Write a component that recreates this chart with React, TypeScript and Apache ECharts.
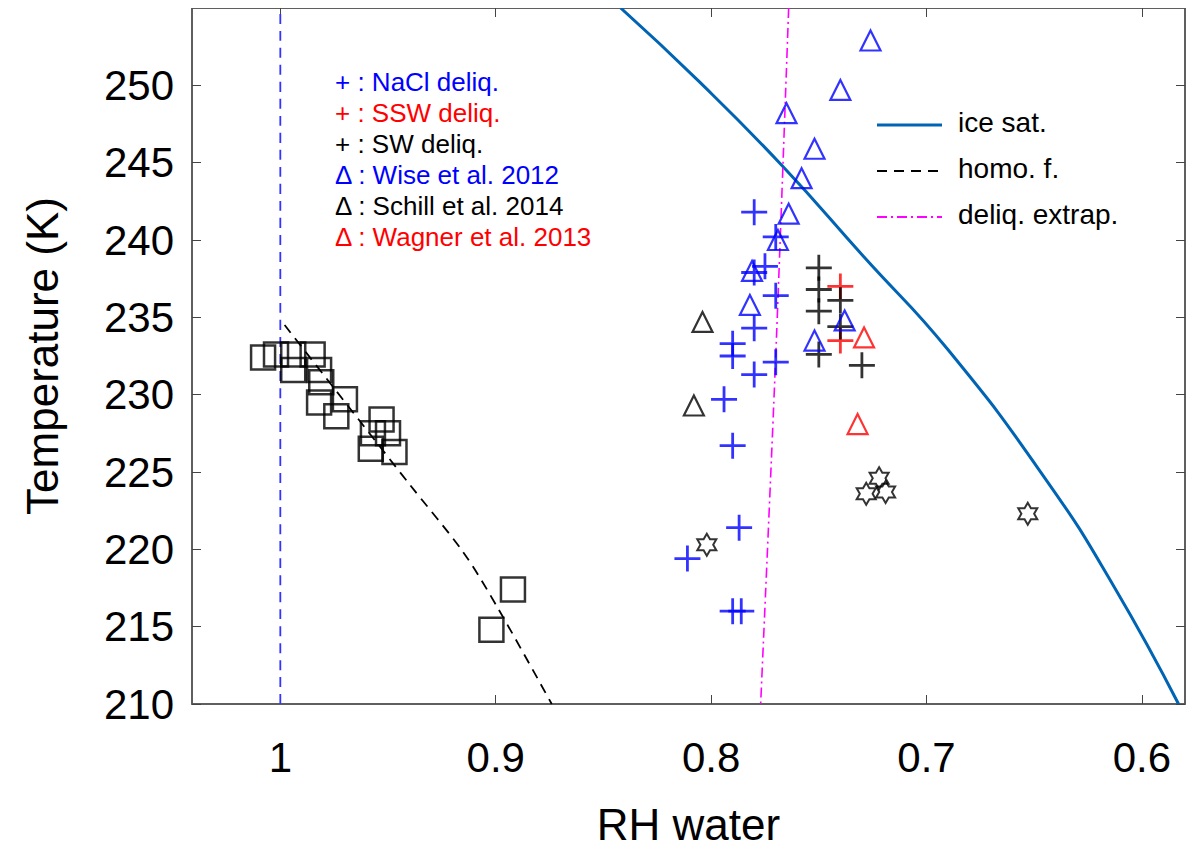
import React, { useEffect, useRef } from "react";
import * as echarts from "echarts";

const naclDeliq = [
  [0.780, 241.8], [0.770, 240.2], [0.775, 238.3], [0.780, 237.9], [0.770, 236.4],
  [0.780, 234.3], [0.790, 233.3], [0.790, 232.5], [0.780, 231.3], [0.770, 232.1],
  [0.794, 229.7], [0.790, 226.7], [0.787, 221.4], [0.811, 219.4], [0.790, 216.0], [0.786, 216.0],
];
const sswDeliq = [[0.740, 237.0], [0.740, 233.5]];
const swDeliq = [
  [0.750, 238.2], [0.750, 236.8], [0.740, 236.1], [0.750, 235.4], [0.740, 234.4],
  [0.750, 232.6], [0.730, 231.9],
];
const wise2012 = [
  [0.726, 252.9], [0.740, 249.7], [0.765, 248.2], [0.752, 245.9], [0.758, 244.0],
  [0.764, 241.7], [0.769, 240.0], [0.781, 238.0], [0.782, 235.8], [0.738, 234.8], [0.752, 233.5],
];
const schill2014 = [[0.804, 234.7], [0.808, 229.3]];
const wagner2013 = [[0.729, 233.7], [0.732, 228.1]];
const squares = [
  [1.008, 232.4], [1.002, 232.6], [0.994, 232.6], [0.985, 232.6], [0.994, 231.6],
  [0.982, 231.6], [0.981, 230.8], [0.982, 229.5], [0.970, 229.7], [0.974, 228.6],
  [0.953, 228.4], [0.957, 227.5], [0.950, 227.5], [0.958, 226.5], [0.947, 226.3],
  [0.892, 217.4], [0.902, 214.8],
];
const stars = [[0.802, 220.3], [0.728, 223.6], [0.722, 224.6], [0.719, 223.7], [0.653, 222.3]];
const iceSat = [
  [0.842, 255], [0.806, 250.3], [0.767, 244.8], [0.729, 238.9], [0.690, 232.9],
  [0.644, 224.4], [0.613, 217.6], [0.583, 210],
];
const homoF = [[0.998, 234.5], [0.940, 224.2], [0.915, 219.8], [0.899, 216.2], [0.874, 210]];
const deliqExtrap = [[0.764, 255], [0.770, 232.5], [0.777, 210]];
const waterLine = [[1, 210], [1, 255]];
const xTicks = [1, 0.9, 0.8, 0.7, 0.6];
const yTicks = [210, 215, 220, 225, 230, 235, 240, 245, 250];

const textLegend = [
  { sym: "+", label: "NaCl deliq.", color: "#0000ff" },
  { sym: "+", label: "SSW deliq.", color: "#ff0000" },
  { sym: "+", label: "SW deliq.", color: "#000000" },
  { sym: "\u0394", label: "Wise et al. 2012", color: "#0000ff" },
  { sym: "\u0394", label: "Schill et al. 2014", color: "#000000" },
  { sym: "\u0394", label: "Wagner et al. 2013", color: "#ff0000" },
];
const lineLegend = [
  { label: "ice sat.", color: "#0064b4", type: "solid" },
  { label: "homo. f.", color: "#000000", type: "dashed" },
  { label: "deliq. extrap.", color: "#ff00ff", type: "dashdot" },
];

const PLUS = "path://M0,-10L0,10M-10,0L10,0";
const STAR = "path://M0,-10L2.9,-5L8.66,-5L5.8,0L8.66,5L2.9,5L0,10L-2.9,5L-8.66,5L-5.8,0L-8.66,-5L-2.9,-5Z";
const FONT = "Liberation Sans, Arial, sans-serif";

function scatter(data: number[][], symbol: string, color: string, size: number, bw = 2.2) {
  return {
    type: "scatter", data, symbol, symbolSize: size, symbolKeepAspect: true, z: 5,
    itemStyle: { color: "rgba(0,0,0,0)", borderColor: color, borderWidth: bw },
  };
}
function line(data: number[][], color: string, type: any, width: number, smooth: any = 0.3) {
  return {
    type: "line", data, symbol: "none", smooth, z: 3,
    lineStyle: { color, type, width },
  };
}

export default function App() {
  const ref = useRef<HTMLDivElement>(null);
  useEffect(() => {
    const chart = echarts.init(ref.current!, undefined, { renderer: "svg" });
    const axisCommon = {
      type: "value",
      axisLine: { show: true, lineStyle: { color: "#555", width: 1.5 } },
      axisTick: { show: true, inside: true, length: 9, lineStyle: { color: "#444" } },
      splitLine: { show: false },
    };
    const graphics: any[] = [];
    textLegend.forEach((t, i) => {
      graphics.push({
        type: "text", left: 327, top: 61 + i * 31,
        style: { text: `${t.sym} : ${t.label}`, fill: t.color, font: `26px ${FONT}` },
      });
    });
    lineLegend.forEach((l, i) => {
      const y = 117 + i * 46;
      graphics.push({
        type: "line", shape: { x1: 869, y1: y, x2: 934, y2: y },
        style: { stroke: l.color, lineWidth: l.type === "solid" ? 3 : 1.8,
          lineDash: l.type === "dashed" ? [10, 7] : l.type === "dashdot" ? [10, 4, 2, 4] : null },
      });
      graphics.push({
        type: "text", left: 950, top: y - 17,
        style: { text: l.label, fill: "#000", font: `28px ${FONT}` },
      });
    });
    chart.setOption({
      animation: false,
      grid: { left: 184, right: 7, top: 0, bottom: 134, show: true, borderColor: "#555", borderWidth: 1.5 },
      xAxis: [
        { ...axisCommon, min: 0.58, max: 1.041, inverse: true, position: "bottom",
          name: "RH water", nameLocation: "middle", nameGap: 98,
          nameTextStyle: { fontSize: 44, fontFamily: FONT, color: "#000" },
          axisLabel: { fontSize: 42, fontFamily: FONT, color: "#000", margin: 32,
            customValues: xTicks, formatter: (v: number) => String(+v.toFixed(1)) },
          axisTick: { ...axisCommon.axisTick, customValues: xTicks } },
        { ...axisCommon, min: 0.58, max: 1.041, inverse: true, position: "top",
          axisLabel: { show: false }, axisTick: { ...axisCommon.axisTick, customValues: xTicks } },
      ],
      yAxis: [
        { ...axisCommon, min: 210, max: 255, position: "left",
          name: "Temperature (K)", nameLocation: "middle", nameGap: 128,
          nameTextStyle: { fontSize: 44, fontFamily: FONT, color: "#000" },
          axisLabel: { fontSize: 42, fontFamily: FONT, color: "#000", margin: 18, customValues: yTicks },
          axisTick: { ...axisCommon.axisTick, customValues: yTicks } },
        { ...axisCommon, min: 210, max: 255, position: "right",
          axisLabel: { show: false }, axisTick: { ...axisCommon.axisTick, customValues: yTicks } },
      ],
      series: [
        line(waterLine, "#3333ff", [10, 7], 1.8),
        line(iceSat, "#0064b4", "solid", 3, 0.5),
        line(homoF, "#000000", [10, 7], 1.8),
        line(deliqExtrap, "#ff00ff", [10, 4, 2, 4], 1.6),
        scatter(squares, "rect", "#000", 24, 2.5),
        scatter(stars, STAR, "#000", 22, 2),
        scatter(naclDeliq, PLUS, "#0000ff", 26, 2.8),
        scatter(sswDeliq, PLUS, "#ff0000", 26, 2.8),
        scatter(swDeliq, PLUS, "#000000", 26, 2.8),
        scatter(wise2012, "triangle", "#0000ff", 20, 2.2),
        scatter(schill2014, "triangle", "#000000", 20, 2.2),
        scatter(wagner2013, "triangle", "#ff0000", 20, 2.2),
      ],
      graphic: graphics,
    });
    return () => chart.dispose();
  }, []);
  return <div ref={ref} style={{ width: 1184, height: 843 }} />;
}
